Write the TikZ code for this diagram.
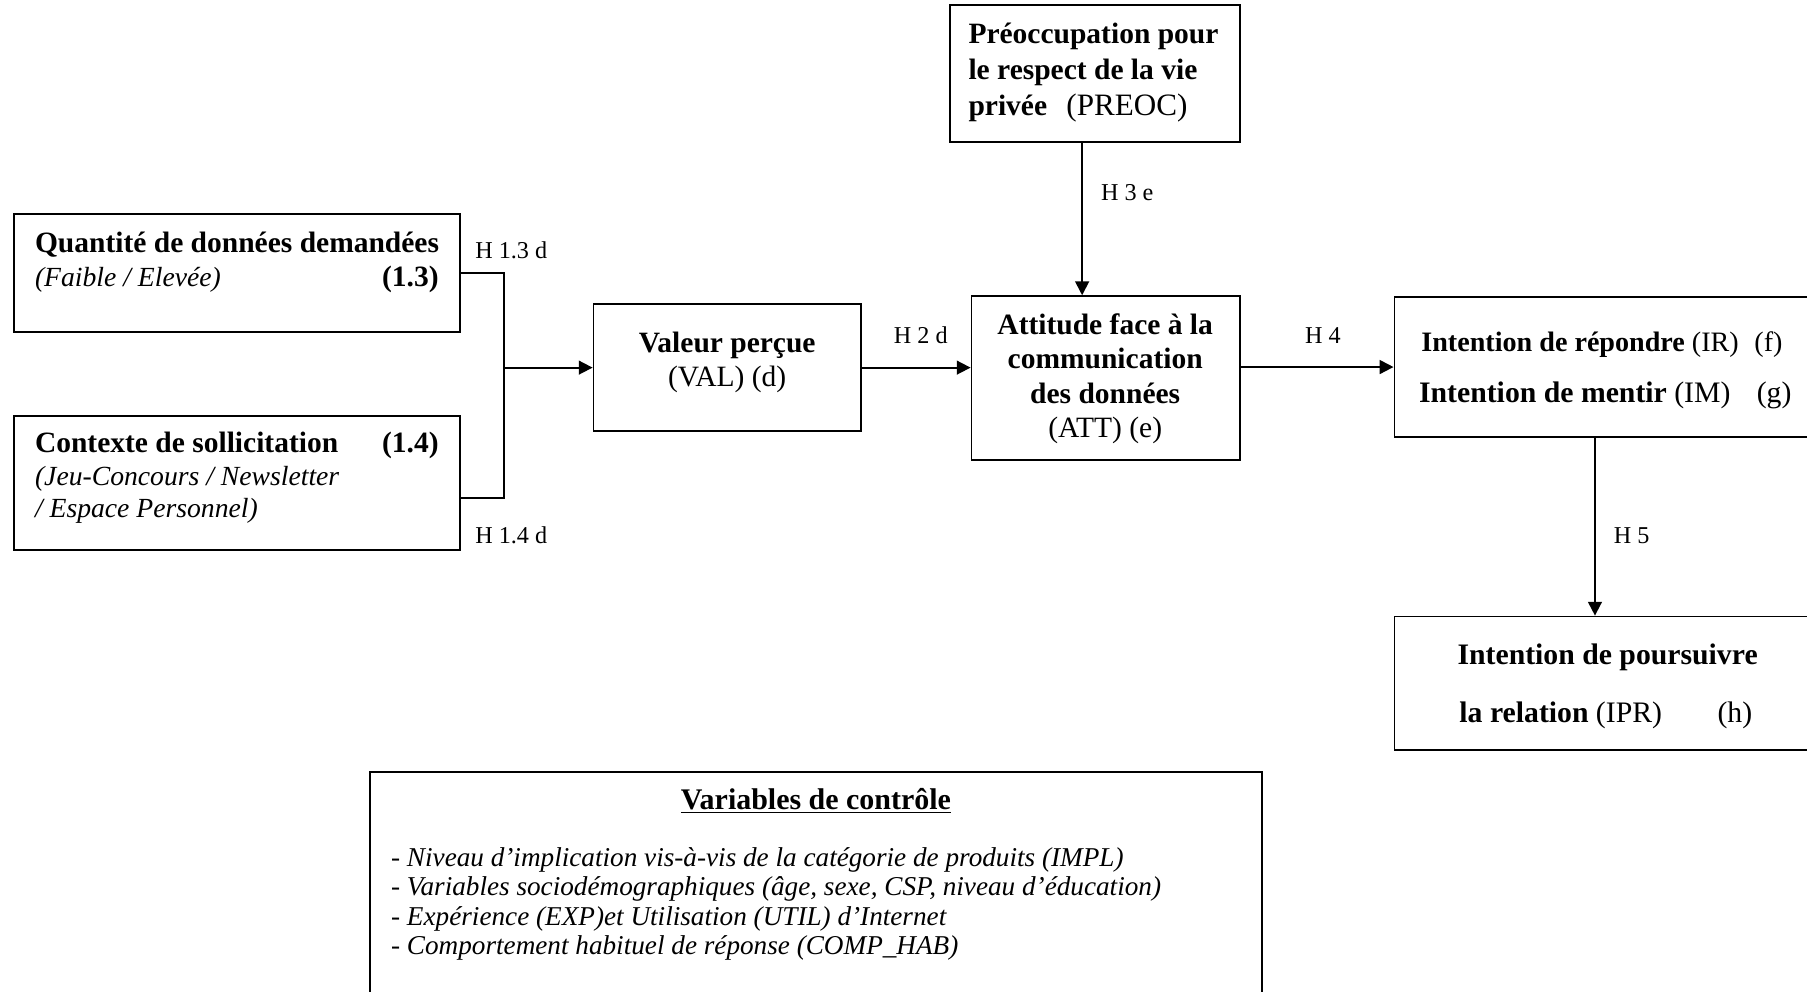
\documentclass[tikz,border=0pt]{standalone}
\usepackage{fontspec}
\setmainfont{Liberation Serif}
\usetikzlibrary{arrows.meta}
\begin{document}
\begin{tikzpicture}[x=0.5pt,y=-0.5pt,
  box/.style={draw, line width=0.8pt, inner sep=0pt},
  arr/.style={line width=0.8pt, -{Triangle[length=6pt,width=6pt]}},
  ln/.style={line width=0.8pt},
  lbl/.style={font=\fontsize{10.5}{12}\selectfont, inner sep=0pt},
  txt/.style={inner sep=0pt, font=\fontsize{12.8}{15}\selectfont},
  txi/.style={inner sep=0pt, font=\fontsize{12}{15}\selectfont\itshape},
  txs/.style={inner sep=0pt, font=\fontsize{12.2}{15}\selectfont},
  txb/.style={inner sep=0pt, font=\fontsize{12.9}{15}\selectfont},
  ctl/.style={inner sep=0pt, font=\fontsize{11.8}{14}\selectfont\itshape},
  bw/.style={anchor=base west},
]
\useasboundingbox (0,0) rectangle (1568,860);
\clip (0,0) rectangle (1568,860);

% boxes
\node[box, minimum width=126pt, minimum height=59.5pt] (preoc) at (950,63.5) {};
\node[box, minimum width=193.5pt, minimum height=51pt] (qty) at (205.5,237) {};
\node[box, minimum width=193.5pt, minimum height=58pt] (ctx) at (205.5,419) {};
\node[box, minimum width=116pt, minimum height=55pt] (val) at (631,319) {};
\node[box, minimum width=116.5pt, minimum height=71pt] (att) at (959.5,328) {};
\node[box, minimum width=182pt, minimum height=60.5pt] (ir) at (1392,318.5) {};
\node[box, minimum width=182pt, minimum height=58pt] (ipr) at (1392,593) {};
\node[box, minimum width=387pt, minimum height=98pt] (ctrl) at (708,768) {};

% PREOC text
\node[txt,bw] (p1) at (840,38) {\textbf{Préoccupation pour}};
\node[txt,bw] (p2) at (840,69) {\textbf{le respect de la vie}};
\node[txt,bw] (p3) at (840,100) {\textbf{privée}};
\node[txt,bw,font=\fontsize{13.5}{15}\selectfont] (p4) at (925,100) {(PREOC)};

% Quantite
\node[txt,bw] (q1) at (30,219) {\textbf{Quantité de données demandées}};
\node[txi,bw] (q2) at (30,249) {(Faible / Elevée)};
\node[txt,anchor=base east] (q3) at (381,249) {\textbf{(1.3)}};

% Contexte
\node[txt,bw] (c1) at (30,393) {\textbf{Contexte de sollicitation}};
\node[txt,anchor=base east] (c2) at (381,393) {\textbf{(1.4)}};
\node[txi,bw] (c3) at (30,421) {(Jeu-Concours / Newsletter};
\node[txi,bw] (c4) at (30,449) {/ Espace Personnel)};

% VAL
\node[txt,anchor=base] (v1) at (631,306) {\textbf{Valeur perçue}};
\node[txt,anchor=base] (v2) at (631,335) {(VAL) (d)};

% ATT
\node[txt,anchor=base] (a1) at (959,290) {\textbf{Attitude face à la}};
\node[txt,anchor=base] (a2) at (959,320) {\textbf{communication}};
\node[txt,anchor=base] (a3) at (959,350) {\textbf{des données}};
\node[txt,anchor=base] (a4) at (959,380) {(ATT) (e)};

% IR
\node[txs,bw] (i1) at (1233,305) {\textbf{Intention de répondre} (IR)};
\node[txs,bw] (i2) at (1522,305) {(f)};
\node[txb,bw] (i3) at (1231,349) {\textbf{Intention de mentir} (IM)};
\node[txb,bw] (i4) at (1524,349) {(g)};

% IPR
\node[txb,anchor=base] (r1) at (1395,577) {\textbf{Intention de poursuivre}};
\node[txb,bw] (r2) at (1266,627) {\textbf{la relation} (IPR)};
\node[txb,bw] (r3) at (1490,627) {(h)};

% control
\node[inner sep=0pt, font=\fontsize{13}{15}\selectfont, anchor=base] (t0) at (708,702) {\textbf{\underline{Variables de contrôle}}};
\node[ctl,bw] (t1) at (339,752) {- Niveau d’implication vis-à-vis de la catégorie de produits (IMPL)};
\node[ctl,bw] (t2) at (339,777) {- Variables sociodémographiques (âge, sexe, CSP, niveau d’éducation)};
\node[ctl,bw] (t3) at (339,803) {- Expérience (EXP)et Utilisation (UTIL) d’Internet};
\node[ctl,bw] (t4) at (339,828) {- Comportement habituel de réponse (COMP\_HAB)};

% connectors
\coordinate (j) at (437,319);
\draw[ln] (qty.east) -| (j);
\draw[ln] ([yshift=-6.5pt]ctx.east) -| (j);
\draw[arr] (j) -- (val.west);
\draw[arr] (val.east) -- (val.east -| att.west);
\draw[arr] ([xshift=-5.5pt]preoc.south) -- ([xshift=-5.5pt]preoc.south |- att.north);
\draw[arr] (att.east |- ir.west) -- (ir.west);
\draw[arr] ([xshift=-4pt]ir.south) -- ([xshift=-4pt]ir.south |- ipr.north);

% labels
\node[lbl,bw] (h13) at (412,224) {H 1.3 d};
\node[lbl,bw] (h14) at (412,472) {H 1.4 d};
\node[lbl,anchor=base] (h2) at (799,298) {H 2 d};
\node[lbl,bw] (h3) at (955,174) {H 3 e};
\node[lbl,anchor=base] (h4) at (1148,298) {H 4};
\node[lbl,bw] (h5) at (1400,472) {H 5};
\end{tikzpicture}
\end{document}
